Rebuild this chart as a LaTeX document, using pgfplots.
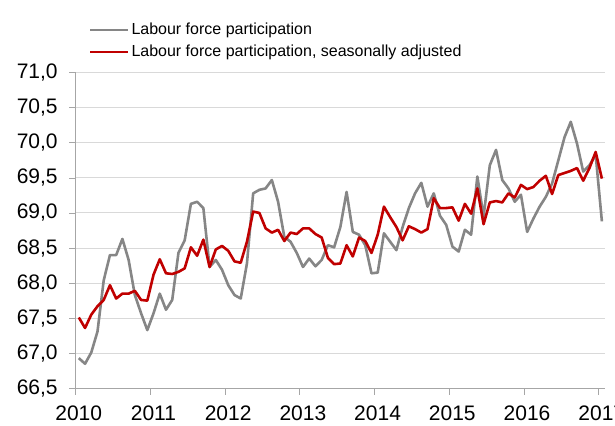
\documentclass[border=0pt]{standalone}
\usepackage{fontspec}
\setmainfont{Liberation Sans}
\usepackage{pgfplots}
\usepackage{pgfplotstable}
\pgfplotsset{compat=1.18}
\definecolor{lfpgray}{RGB}{134,134,134}
\definecolor{lfpred}{RGB}{192,0,0}
\definecolor{gridgray}{RGB}{217,217,217}
\definecolor{axisgray}{RGB}{166,166,166}

% monthly values, Jan 2010 (t=0.5) to Jan 2017 (t=84.5)
\pgfplotstableread{
t     raw    sa
0.5   66.93  67.51
1.5   66.85  67.36
2.5   67.01  67.55
3.5   67.31  67.67
4.5   68.04  67.76
5.5   68.40  67.97
6.5   68.40  67.78
7.5   68.63  67.85
8.5   68.33  67.85
9.5   67.83  67.89
10.5  67.57  67.76
11.5  67.33  67.75
12.5  67.57  68.12
13.5  67.85  68.34
14.5  67.62  68.14
15.5  67.76  68.13
16.5  68.43  68.16
17.5  68.61  68.21
18.5  69.13  68.51
19.5  69.16  68.39
20.5  69.07  68.62
21.5  68.23  68.23
22.5  68.33  68.48
23.5  68.19  68.53
24.5  67.97  68.46
25.5  67.83  68.31
26.5  67.78  68.29
27.5  68.28  68.59
28.5  69.28  69.02
29.5  69.33  69.00
30.5  69.35  68.78
31.5  69.47  68.72
32.5  69.16  68.76
33.5  68.66  68.60
34.5  68.59  68.72
35.5  68.43  68.70
36.5  68.23  68.78
37.5  68.35  68.78
38.5  68.24  68.70
39.5  68.33  68.65
40.5  68.54  68.36
41.5  68.51  68.27
42.5  68.80  68.28
43.5  69.30  68.54
44.5  68.73  68.38
45.5  68.69  68.65
46.5  68.54  68.60
47.5  68.14  68.43
48.5  68.15  68.69
49.5  68.71  69.09
50.5  68.59  68.94
51.5  68.47  68.80
52.5  68.80  68.61
53.5  69.07  68.81
54.5  69.28  68.77
55.5  69.43  68.72
56.5  69.09  68.77
57.5  69.28  69.21
58.5  68.96  69.07
59.5  68.83  69.07
60.5  68.52  69.08
61.5  68.45  68.89
62.5  68.76  69.13
63.5  68.69  68.99
64.5  69.52  69.35
65.5  68.95  68.84
66.5  69.68  69.15
67.5  69.90  69.17
68.5  69.47  69.15
69.5  69.35  69.28
70.5  69.16  69.22
71.5  69.26  69.40
72.5  68.73  69.34
73.5  68.92  69.37
74.5  69.09  69.46
75.5  69.23  69.53
76.5  69.42  69.27
77.5  69.75  69.54
78.5  70.08  69.57
79.5  70.30  69.60
80.5  69.99  69.64
81.5  69.59  69.46
82.5  69.68  69.64
83.5  69.83  69.87
84.5  68.88  69.49
}\lfpdata

\begin{document}
\begin{tikzpicture}
\begin{axis}[
  scale only axis,
  width=529.3pt,
  height=315.6pt,
  xmin=0, xmax=85,
  ymin=66.5, ymax=71,
  axis x line*=bottom,
  axis y line*=left,
  xtick={0,12,24,36,48,60,72,84},
  xticklabels={2010,2011,2012,2013,2014,2015,2016,2017},
  ytick={66.5,67,67.5,68,68.5,69,69.5,70,70.5,71},
  /pgf/number format/fixed,
  /pgf/number format/fixed zerofill,
  /pgf/number format/precision=1,
  /pgf/number format/use comma,
  /pgf/number format/assume math mode=true,
  tick align=outside,
  major tick length=6.5pt,
  tick style={axisgray,line width=0.8pt},
  axis line style={axisgray,line width=1pt},
  ymajorgrids,
  grid style={gridgray,line width=1pt},
  tick label style={font=\fontsize{21}{25}\selectfont},
  xticklabel style={xshift=3pt,yshift=-7pt},
  yticklabel style={xshift=-8pt},
  legend cell align=left,
  legend style={
    at={(rel axis cs:0,1)}, anchor=south west,
    xshift=13pt, yshift=12pt,
    draw=none, fill=none,
    font=\fontsize{16}{19}\selectfont,
    row sep=5pt,
    inner sep=0pt,
  },
  legend image code/.code={\draw[#1,line width=2.6pt] (0pt,0pt) -- (38pt,0pt);},
]
\addplot[lfpgray, line width=2.6pt, line join=round] table[x=t,y=raw] {\lfpdata};
\addlegendentry{Labour force participation}
\addplot[lfpred, line width=2.6pt, line join=round] table[x=t,y=sa] {\lfpdata};
\addlegendentry{Labour force participation, seasonally adjusted}
\end{axis}
\pgfresetboundingbox
\path[use as bounding box] ([xshift=-75.7pt,yshift=-36.7pt]current axis.south west) rectangle ([xshift=10pt,yshift=72.7pt]current axis.north east);
\end{tikzpicture}
\end{document}
